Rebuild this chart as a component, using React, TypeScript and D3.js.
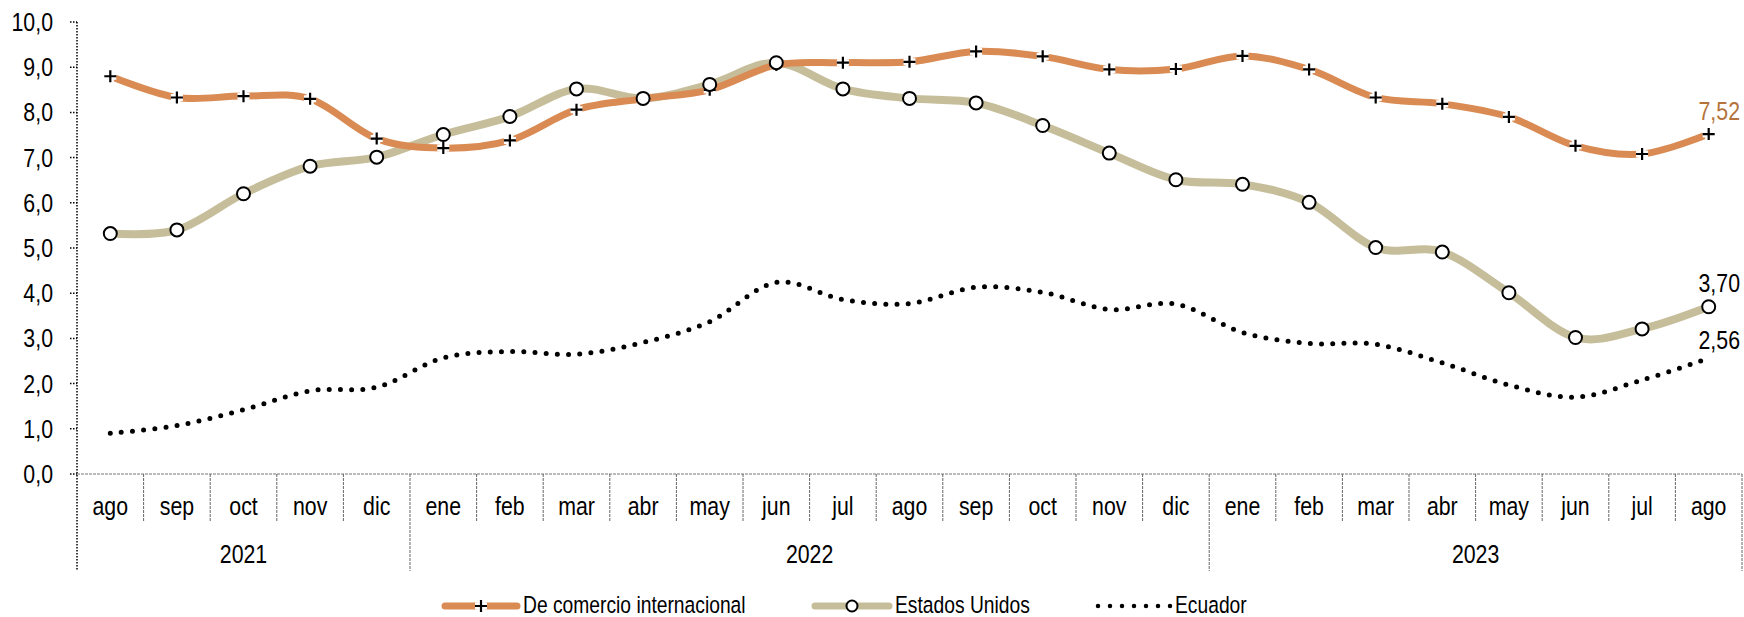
import React from "react";
import * as d3 from "d3";

const months = ["ago","sep","oct","nov","dic","ene","feb","mar","abr","may","jun","jul","ago","sep","oct","nov","dic","ene","feb","mar","abr","may","jun","jul","ago"];
const years = [
  { label: "2021", start: 0, end: 5 },
  { label: "2022", start: 5, end: 17 },
  { label: "2023", start: 17, end: 25 },
];
const comercio = [8.8, 8.33, 8.36, 8.3, 7.42, 7.21, 7.38, 8.06, 8.3, 8.5, 9.05, 9.1, 9.12, 9.35, 9.24, 8.95, 8.96, 9.25, 8.95, 8.33, 8.19, 7.9, 7.26, 7.08, 7.52];
const estados = [5.32, 5.4, 6.2, 6.81, 7.01, 7.51, 7.91, 8.52, 8.31, 8.62, 9.1, 8.52, 8.31, 8.21, 7.71, 7.1, 6.51, 6.41, 6.01, 5.01, 4.91, 4.01, 3.02, 3.21, 3.7];
const ecuador = [0.9, 1.07, 1.42, 1.84, 1.92, 2.57, 2.71, 2.65, 2.91, 3.37, 4.24, 3.86, 3.77, 4.13, 4.02, 3.64, 3.76, 3.13, 2.89, 2.87, 2.46, 1.97, 1.7, 2.08, 2.56];
const yTicks = [0, 1, 2, 3, 4, 5, 6, 7, 8, 9, 10];
const seriesNames = ["De comercio internacional", "Estados Unidos", "Ecuador"];
const endLabels = ["7,52", "3,70", "2,56"];

const ORANGE = "#D98B53";
const TAN = "#C6BE9B";
const FONT = "'Liberation Sans', Arial, sans-serif";
const SX = 0.82;

function NText({ x, y, size, anchor = "start", fill = "#000", dy, children }: any) {
  return (
    <text transform={`translate(${x},${y}) scale(${SX},1)`} textAnchor={anchor} fontSize={size} fill={fill} dy={dy}>
      {children}
    </text>
  );
}

export default function App() {
  const W = 1744, H = 617;
  const left = 77, right = 1742, top = 22, bottom = 474;
  const x = d3.scaleBand<number>().domain(d3.range(months.length)).range([left, right]).padding(0);
  const y = d3.scaleLinear().domain([0, 10]).range([bottom, top]);
  const cx = (i: number) => (x(i) as number) + x.bandwidth() / 2;
  const line = d3.line<number>().x((_, i) => cx(i)).y((d) => y(d)).curve(d3.curveCardinal.tension(0));
  const fmt = (v: number) => v.toFixed(1).replace(".", ",");
  const last = months.length - 1;
  const plus = "M-6,0H6M0,-6V6";

  return (
    <svg width={W} height={H} style={{ position: "absolute", left: 0, top: 0, background: "#fff" }} fontFamily={FONT}>
      {/* y axis */}
      <line x1={left} x2={left} y1={top} y2={571} stroke="#000" strokeWidth={1.5} strokeDasharray="1.5,1.5" />
      {yTicks.map((t) => (
        <g key={t}>
          <line x1={left - 7} x2={left} y1={y(t)} y2={y(t)} stroke="#000" strokeWidth={1.5} strokeDasharray="1.5,1.5" />
          <NText x={53} y={y(t) + 9} size={26} anchor="end">{fmt(t)}</NText>
        </g>
      ))}
      {/* x axis */}
      <line x1={left} x2={right} y1={bottom} y2={bottom} stroke="#777" strokeWidth={1} strokeDasharray="3,1" />
      {months.map((m, i) => (
        <g key={i}>
          {i > 0 && (
            <line x1={x(i) as number} x2={x(i) as number} y1={bottom} y2={years.some((yr) => yr.start === i) ? 571 : 522}
              stroke="#666" strokeWidth={1} strokeDasharray="3,1" />
          )}
          <NText x={cx(i)} y={515} size={26} anchor="middle">{m}</NText>
        </g>
      ))}
      <line x1={right} x2={right} y1={bottom} y2={571} stroke="#666" strokeWidth={1} strokeDasharray="3,1" />
      {years.map((yr) => {
        const x0 = x(yr.start) as number;
        const x1 = yr.end >= months.length ? right : (x(yr.end) as number);
        return (
          <NText key={yr.label} x={(x0 + x1) / 2} y={563} size={26} anchor="middle">{yr.label}</NText>
        );
      })}

      {/* Ecuador dotted */}
      <path d={line(ecuador) as string} fill="none" stroke="#000" strokeWidth={5} strokeLinecap="round" strokeDasharray="0,11.2" />
      {/* Estados Unidos */}
      <path d={line(estados) as string} fill="none" stroke={TAN} strokeWidth={8} />
      {/* Comercio */}
      <path d={line(comercio) as string} fill="none" stroke={ORANGE} strokeWidth={7} />
      {comercio.map((v, i) => (
        <g key={"c" + i} transform={`translate(${cx(i)},${y(v)})`}>
          <path d={plus} stroke="#fff" strokeWidth={7} fill="none" />
          <path d={plus} stroke="#000" strokeWidth={2.2} fill="none" />
        </g>
      ))}
      {estados.map((v, i) => (
        <circle key={"e" + i} cx={cx(i)} cy={y(v)} r={6.5} fill="#fff" stroke="#000" strokeWidth={2} />
      ))}

      {/* end labels */}
      <NText x={1740} y={y(comercio[last]) - 14} size={26} anchor="end" fill="#B5733C">{endLabels[0]}</NText>
      <NText x={1740} y={y(estados[last]) - 15} size={26} anchor="end">{endLabels[1]}</NText>
      <NText x={1740} y={y(ecuador[last]) - 9} size={26} anchor="end">{endLabels[2]}</NText>

      {/* legend */}
      <g>
        <line x1={445} x2={517} y1={606} y2={606} stroke={ORANGE} strokeWidth={7} strokeLinecap="round" />
        <g transform="translate(481,606)">
          <path d={plus} stroke="#fff" strokeWidth={7} fill="none" />
          <path d={plus} stroke="#000" strokeWidth={2.2} fill="none" />
        </g>
        <NText x={523} y={613} size={23.5}>{seriesNames[0]}</NText>

        <line x1={815} x2={889} y1={606} y2={606} stroke={TAN} strokeWidth={7} strokeLinecap="round" />
        <circle cx={852} cy={606} r={5.5} fill="#fff" stroke="#000" strokeWidth={2} />
        <NText x={895} y={613} size={23.5}>{seriesNames[1]}</NText>

        <line x1={1098} x2={1171} y1={606} y2={606} stroke="#000" strokeWidth={4.5} strokeLinecap="round" strokeDasharray="0,12" />
        <NText x={1175} y={613} size={23.5}>{seriesNames[2]}</NText>
      </g>
    </svg>
  );
}
